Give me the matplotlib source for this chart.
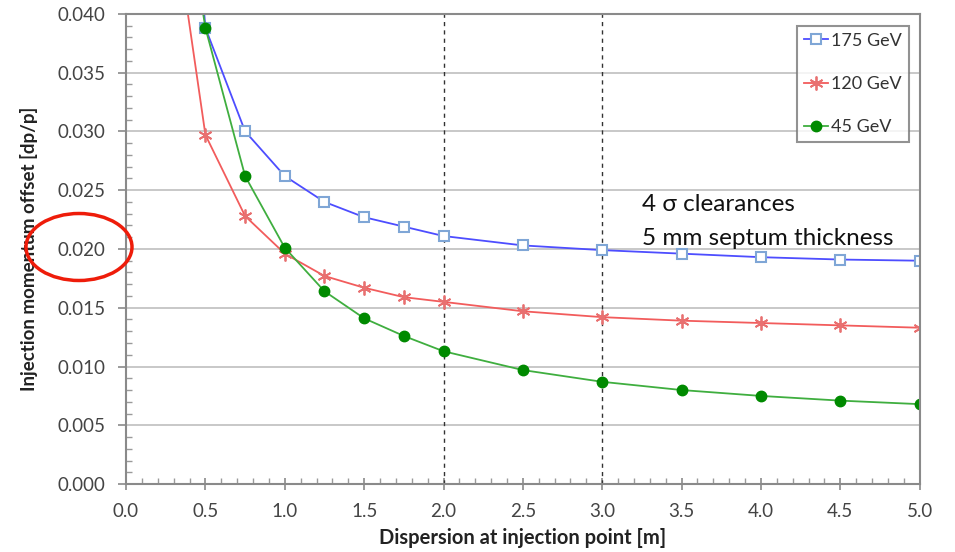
import matplotlib
matplotlib.use("Agg")
import matplotlib.pyplot as plt
from matplotlib.patches import Ellipse
from matplotlib.ticker import MultipleLocator, FormatStrFormatter

plt.rcParams["font.family"] = ["Lato", "DejaVu Sans"]

# dispersion at injection point [m]
dispersion = [0.25, 0.5, 0.75, 1.0, 1.25, 1.5, 1.75, 2.0, 2.5, 3.0, 3.5, 4.0, 4.5, 5.0]

# injection momentum offset [dp/p]
offset_175 = [0.080, 0.0388, 0.0300, 0.0262, 0.0240, 0.0227, 0.0219, 0.0211,
              0.0203, 0.0199, 0.0196, 0.0193, 0.0191, 0.0190]
offset_120 = [0.053, 0.0297, 0.0228, 0.0196, 0.0177, 0.0167, 0.0159, 0.0155,
              0.0147, 0.0142, 0.0139, 0.0137, 0.0135, 0.0133]
offset_45 = [0.060, 0.0388, 0.0262, 0.0201, 0.0164, 0.0141, 0.0126, 0.0113,
             0.0097, 0.0087, 0.0080, 0.0075, 0.0071, 0.0068]

series_labels = ["175 GeV", "120 GeV", "45 GeV"]
marked_dispersion = [2.0, 3.0]
notes = ["4 \u03c3 clearances", "5 mm septum thickness"]

fig = plt.figure(figsize=(9.55, 5.52), dpi=100)
ax = fig.add_axes([0.132, 0.123, 0.831, 0.852])

ax.plot(dispersion, offset_175, color="#4d4dff", lw=1.3, marker="s", ms=7,
        mfc="white", mec="#7fa6d6", mew=1.5, label=series_labels[0])
ax.plot(dispersion, offset_120, color="#f25c5c", lw=1.3, marker=(6, 2, 0), ms=10,
        mec="#e87070", mew=1.3, label=series_labels[1])
ax.plot(dispersion, offset_45, color="#3fae3f", lw=1.3, marker="o", ms=7.5,
        mfc="#008a00", mec="#008a00", label=series_labels[2])

for xv in marked_dispersion:
    ax.axvline(xv, color="#333333", lw=1.0, ls=(0, (3, 3)), zorder=1)

ax.set_xlim(0, 5)
ax.set_ylim(0, 0.040)
ax.xaxis.set_major_locator(MultipleLocator(0.5))
ax.xaxis.set_minor_locator(MultipleLocator(0.1))
ax.yaxis.set_major_locator(MultipleLocator(0.005))
ax.yaxis.set_minor_locator(MultipleLocator(0.001))
ax.xaxis.set_major_formatter(FormatStrFormatter("%.1f"))
ax.yaxis.set_major_formatter(FormatStrFormatter("%.3f"))
ax.grid(axis="y", which="major", color="#c4c4c4", lw=1.3, zorder=0)
ax.set_axisbelow(True)

for s in ax.spines.values():
    s.set_color("#8a8a8a")
    s.set_linewidth(1.5)

ax.tick_params(axis="both", which="major", colors="#8a8a8a", labelcolor="#444444",
               labelsize=13.5, length=6, width=1.2)
ax.tick_params(axis="y", which="major", direction="out", pad=9)
ax.tick_params(axis="x", which="major", direction="inout", length=9, pad=9)
ax.tick_params(axis="both", which="minor", direction="in", colors="#9a9a9a",
               length=4, width=1.0)

ax.set_xlabel("Dispersion at injection point [m]", fontsize=14.5,
              fontweight="bold", color="#222222", labelpad=6)
ax.set_ylabel("Injection momentum offset [dp/p]", fontsize=13.5,
              fontweight="bold", color="#222222", labelpad=14)

leg = ax.legend(loc="upper right", bbox_to_anchor=(0.987, 0.975), fontsize=13,
                frameon=True, fancybox=False, handlelength=1.3, handletextpad=0.2,
                borderpad=0.4, labelspacing=1.5, borderaxespad=0)
leg.get_frame().set_edgecolor("#777777")
leg.get_frame().set_linewidth(1.5)
for t in leg.get_texts():
    t.set_color("#333333")

ax.text(3.25, 0.0238, notes[0], fontsize=17.5, color="#111111", va="center")
ax.text(3.25, 0.0209, notes[1], fontsize=17.5, color="#111111", va="center")

# red ring drawn around the 0.020 tick label
ring = Ellipse((79 / 955, 1 - 247 / 552), 106 / 955, 67 / 552,
               transform=fig.transFigure, fill=False, edgecolor="#ee1c0a",
               lw=2.5, clip_on=False)
fig.add_artist(ring)

fig.savefig("out.png", dpi=100)
